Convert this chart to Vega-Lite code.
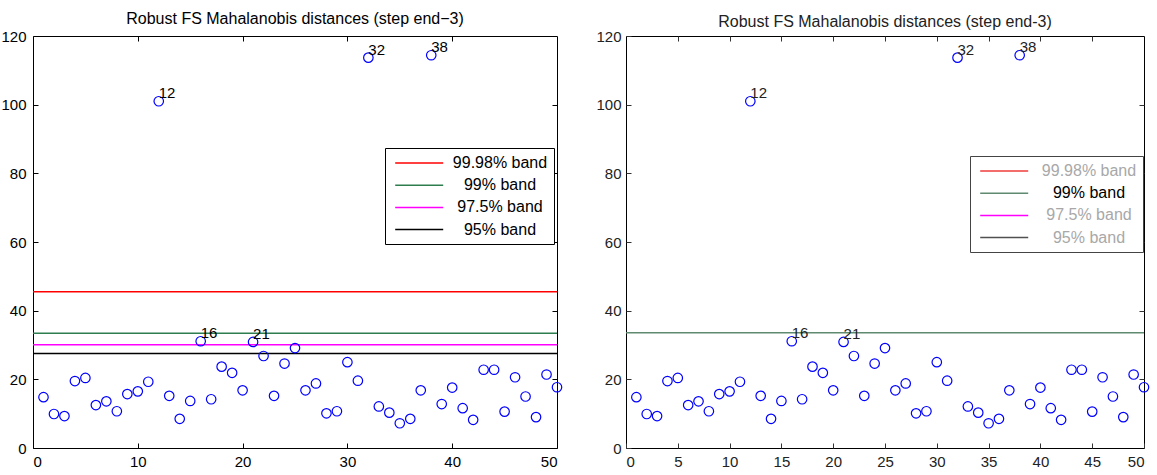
{
  "$schema": "https://vega.github.io/schema/vega-lite/v6.json",
  "padding": {"left": 0, "top": 10, "right": 0, "bottom": 0},
  "background": "white",
  "spacing": 30,
  "resolve": {"scale": {"color": "independent"}, "legend": {"color": "independent"}},
  "config": {
    "view": {"stroke": "#000", "strokeWidth": 1},
    "font": "Liberation Sans",
    "axis": {"grid": false, "domain": false, "tickColor": "#000", "tickSize": -5, "labelFont": "Liberation Sans", "labelFontSize": 15, "labelColor": "#000", "labelPadding": 11}
  },
  "datasets": {
    "pts": [
      {"i": 1, "d": 14.8}, {"i": 2, "d": 9.9}, {"i": 3, "d": 9.3}, {"i": 4, "d": 19.5}, {"i": 5, "d": 20.4},
      {"i": 6, "d": 12.5}, {"i": 7, "d": 13.6}, {"i": 8, "d": 10.7}, {"i": 9, "d": 15.7}, {"i": 10, "d": 16.5},
      {"i": 11, "d": 19.3}, {"i": 12, "d": 101.0}, {"i": 13, "d": 15.2}, {"i": 14, "d": 8.5}, {"i": 15, "d": 13.7},
      {"i": 16, "d": 31.1}, {"i": 17, "d": 14.2}, {"i": 18, "d": 23.7}, {"i": 19, "d": 21.9}, {"i": 20, "d": 16.8},
      {"i": 21, "d": 30.9}, {"i": 22, "d": 26.8}, {"i": 23, "d": 15.2}, {"i": 24, "d": 24.6}, {"i": 25, "d": 29.1},
      {"i": 26, "d": 16.8}, {"i": 27, "d": 18.8}, {"i": 28, "d": 10.1}, {"i": 29, "d": 10.7}, {"i": 30, "d": 25.0},
      {"i": 31, "d": 19.6}, {"i": 32, "d": 113.7}, {"i": 33, "d": 12.1}, {"i": 34, "d": 10.3}, {"i": 35, "d": 7.2},
      {"i": 36, "d": 8.5}, {"i": 37, "d": 16.8}, {"i": 38, "d": 114.4}, {"i": 39, "d": 12.8}, {"i": 40, "d": 17.6},
      {"i": 41, "d": 11.6}, {"i": 42, "d": 8.2}, {"i": 43, "d": 22.8}, {"i": 44, "d": 22.8}, {"i": 45, "d": 10.6},
      {"i": 46, "d": 20.6}, {"i": 47, "d": 15.0}, {"i": 48, "d": 9.0}, {"i": 49, "d": 21.4}, {"i": 50, "d": 17.7}
    ],
    "bandsL": [
      {"band": "99.98% band", "value": 45.5},
      {"band": "99% band", "value": 33.4},
      {"band": "97.5% band", "value": 30.1},
      {"band": "95% band", "value": 27.5}
    ],
    "bandsR": [
      {"band": "99% band", "value": 33.6}
    ]
  },
  "hconcat": [
    {
      "width": 524,
      "height": 412,
      "title": {"text": "Robust FS Mahalanobis distances (step end−3)", "fontSize": 16, "fontWeight": "normal", "font": "Liberation Sans", "color": "#000", "offset": 2},
      "layer": [
        {
          "layer": [
            {
              "data": {"name": "bandsL"},
              "mark": {"type": "rule", "strokeWidth": 1.5},
              "encoding": {
                "y": {"field": "value", "type": "quantitative", "scale": {"domain": [0, 120], "nice": false}, "axis": {"title": null, "values": [0, 20, 40, 60, 80, 100, 120], "labelPadding": 12}},
                "color": {
                  "field": "band", "type": "nominal",
                  "scale": {"domain": ["99.98% band", "99% band", "97.5% band", "95% band"], "range": ["#ff0000", "#2e7d4f", "#ff00ff", "#000000"]},
                  "legend": {"orient": "none", "legendX": 352, "legendY": 112, "title": null, "strokeColor": "#000", "fillColor": "#fff", "padding": 6, "symbolType": "M-0.6,0H5.4", "symbolSize": 256, "symbolStrokeWidth": 1.5, "labelFontSize": 16, "labelFont": "Liberation Sans", "labelColor": "#000", "labelAlign": "center", "labelOffset": 91, "rowPadding": 5.2, "labelLimit": 0}
                }
              }
            },
            {
              "data": {"name": "pts"},
              "mark": {"type": "point", "shape": "circle", "color": "#0000ff", "size": 90, "strokeWidth": 1.2, "filled": false, "opacity": 1},
              "encoding": {
                "x": {"field": "i", "type": "quantitative", "scale": {"domain": [0, 50], "nice": false}, "axis": {"title": null, "values": [0, 10, 20, 30, 40, 50]}},
                "y": {"field": "d", "type": "quantitative"}
              }
            },
            {
              "data": {"name": "pts"},
              "transform": [{"filter": {"field": "i", "oneOf": [12, 16, 21, 32, 38]}}],
              "mark": {"type": "text", "align": "left", "baseline": "alphabetic", "dx": 0, "dy": -3, "fontSize": 15, "color": "#000"},
              "encoding": {
                "x": {"field": "i", "type": "quantitative"},
                "y": {"field": "d", "type": "quantitative"},
                "text": {"field": "i", "type": "nominal"}
              }
            }
          ]
        },
        {
          "data": {"name": "pts"},
          "mark": {"type": "point", "opacity": 0},
          "encoding": {
            "x": {"field": "i", "type": "quantitative", "scale": {"domain": [0, 50], "nice": false}, "axis": {"title": null, "orient": "top", "labels": false, "values": [10, 20, 30, 40]}},
            "y": {"field": "d", "type": "quantitative", "scale": {"domain": [0, 120], "nice": false}, "axis": {"title": null, "orient": "right", "labels": false, "values": [20, 40, 60, 80, 100]}}
          }
        }
      ],
      "resolve": {"scale": {"x": "independent", "y": "independent"}}
    },
    {
      "width": 518,
      "height": 412,
      "title": {"text": "Robust FS Mahalanobis distances (step end-3)", "fontSize": 16, "fontWeight": "normal", "font": "Liberation Sans", "color": "#222", "offset": -1},
      "layer": [
        {
          "layer": [
            {
              "data": {"name": "bandsR"},
              "mark": {"type": "rule", "strokeWidth": 1.5},
              "encoding": {
                "y": {"field": "value", "type": "quantitative", "scale": {"domain": [0, 120], "nice": false}, "axis": {"title": null, "values": [0, 20, 40, 60, 80, 100, 120], "labelPadding": 10, "labelColor": "#222", "tickColor": "#333"}},
                "color": {
                  "field": "band", "type": "nominal",
                  "scale": {"domain": ["99.98% band", "99% band", "97.5% band", "95% band"], "range": ["#f03c3c", "#5f8a70", "#ff00ff", "#505050"]},
                  "legend": {"orient": "none", "legendX": 344, "legendY": 120, "title": null, "strokeColor": "#444", "fillColor": "#fff", "padding": 6, "symbolType": "M-0.6,0H5.4", "symbolSize": 256, "symbolStrokeWidth": 1.5, "labelFontSize": 16, "labelFont": "Liberation Sans", "labelAlign": "center", "labelOffset": 95, "rowPadding": 5.2, "labelLimit": 0,
                    "encode": {"labels": {"update": {"fill": {"signal": "datum.label === '99% band' ? '#000000' : '#a8a8a8'"}}}}}
                }
              }
            },
            {
              "data": {"name": "pts"},
              "mark": {"type": "point", "shape": "circle", "color": "#0000ff", "size": 90, "strokeWidth": 1.2, "filled": false, "opacity": 1},
              "encoding": {
                "x": {"field": "i", "type": "quantitative", "scale": {"domain": [0, 50], "nice": false}, "axis": {"title": null, "values": [0, 5, 10, 15, 20, 25, 30, 35, 40, 45, 50], "labelColor": "#222", "tickColor": "#333"}},
                "y": {"field": "d", "type": "quantitative"}
              }
            },
            {
              "data": {"name": "pts"},
              "transform": [{"filter": {"field": "i", "oneOf": [12, 16, 21, 32, 38]}}],
              "mark": {"type": "text", "align": "left", "baseline": "alphabetic", "dx": 0, "dy": -3, "fontSize": 15, "color": "#222"},
              "encoding": {
                "x": {"field": "i", "type": "quantitative"},
                "y": {"field": "d", "type": "quantitative"},
                "text": {"field": "i", "type": "nominal"}
              }
            }
          ]
        },
        {
          "data": {"name": "pts"},
          "mark": {"type": "point", "opacity": 0},
          "encoding": {
            "x": {"field": "i", "type": "quantitative", "scale": {"domain": [0, 50], "nice": false}, "axis": {"title": null, "orient": "top", "labels": false, "values": [5, 10, 15, 20, 25, 30, 35, 40, 45], "tickColor": "#333"}},
            "y": {"field": "d", "type": "quantitative", "scale": {"domain": [0, 120], "nice": false}, "axis": {"title": null, "orient": "right", "labels": false, "values": [20, 40, 60, 80, 100], "tickColor": "#333"}}
          }
        }
      ],
      "resolve": {"scale": {"x": "independent", "y": "independent"}}
    }
  ]
}
